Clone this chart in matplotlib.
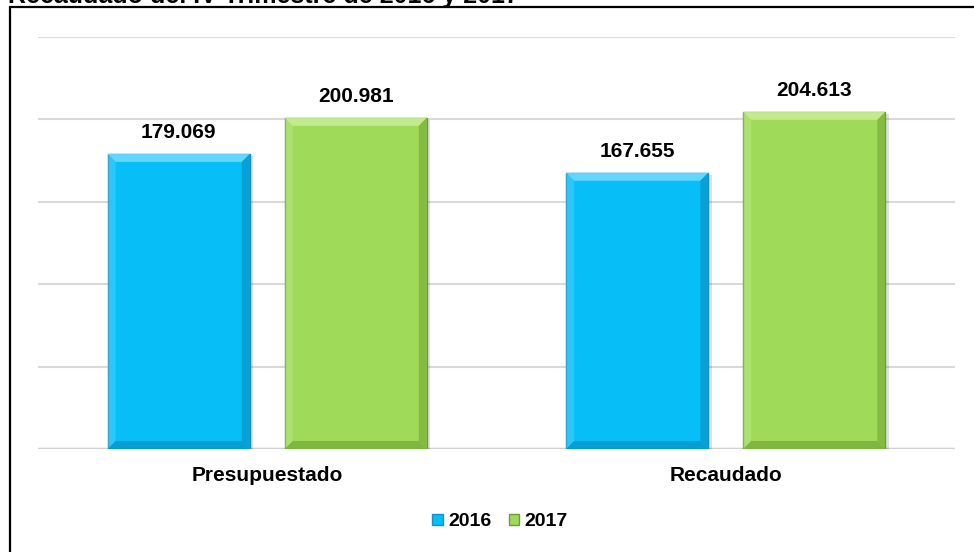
import numpy as np
import matplotlib.pyplot as plt
from matplotlib.patches import Polygon, Rectangle, Patch

# ============================================================
# Datos
# ============================================================
categorias = ["Presupuestado", "Recaudado"]
series = ["2016", "2017"]
valores_2016 = [179.069, 167.655]
valores_2017 = [200.981, 204.613]
titulo = "Recaudado del IV Trimestre de 2016 y 2017"

plt.rcParams['font.family'] = ['Liberation Sans', 'DejaVu Sans']

# colores: (cara, luz, sombra, borde)
col_2016 = ("#08BEF6", "#6ED9FF", "#0796C9", "#1C8FC0")
col_2017 = ("#9FDA59", "#C8EE95", "#78AE3A", "#6E9B3A")

fig = plt.figure(figsize=(9.74, 5.52), dpi=100)
ax = fig.add_axes([38/974, 1 - 449/552, (955 - 38)/974, (449 - 37)/552])

x = np.arange(len(categorias))
ancho = 0.31
desp = 0.193

ax.set_xlim(-0.5, len(categorias) - 0.5)
ax.set_ylim(0, 250)
ax.set_yticks(np.arange(0, 251, 50))
ax.yaxis.grid(True, color="#D9D9D9", linewidth=1.5)
ax.set_axisbelow(True)
for s in ax.spines.values():
    s.set_visible(False)
ax.tick_params(axis='y', left=False, labelleft=False)
ax.tick_params(axis='x', bottom=False, pad=9)
ax.set_xticks(x)
ax.set_xticklabels(categorias, fontsize=15, fontweight='bold')
ax.axhline(0, color="#D0D0D0", linewidth=2.5, zorder=1)


def barra_bisel(xc, h, col):
    x0 = xc - ancho / 2
    # tamaño del bisel en unidades de datos (unos 8 px)
    p0 = ax.transData.transform((0, 0))
    p1 = ax.transData.transform((1, 1))
    bx = 8 / (p1[0] - p0[0])
    by = 8 / (p1[1] - p0[1])
    cara, luz, sombra, borde = col
    # sombra suave
    ax.add_patch(Rectangle((x0 + bx * 0.4, -by * 0.3), ancho, h, color="#000000",
                           alpha=0.12, zorder=2, linewidth=0))
    ax.bar(xc, h, ancho, color=cara, edgecolor=borde, linewidth=1, zorder=3)
    x1 = x0 + ancho
    caras = [
        ([(x0, h), (x1, h), (x1 - bx, h - by), (x0 + bx, h - by)], luz, 0.9),
        ([(x0, 0), (x0, h), (x0 + bx, h - by), (x0 + bx, by)], luz, 0.35),
        ([(x1, 0), (x1, h), (x1 - bx, h - by), (x1 - bx, by)], sombra, 0.7),
        ([(x0, 0), (x1, 0), (x1 - bx, by), (x0 + bx, by)], sombra, 0.8),
    ]
    for pts, c, a in caras:
        ax.add_patch(Polygon(pts, closed=True, facecolor=c, alpha=a,
                             edgecolor='none', zorder=4))
    ax.text(xc, h + 7, f"{h:.3f}", ha='center', va='bottom',
            fontsize=15, fontweight='bold', color='black', zorder=5)


for i in range(len(categorias)):
    barra_bisel(x[i] - desp, valores_2016[i], col_2016)
    barra_bisel(x[i] + desp, valores_2017[i], col_2017)

# leyenda
h1 = Patch(facecolor=col_2016[0], edgecolor=col_2016[3])
h2 = Patch(facecolor=col_2017[0], edgecolor=col_2017[3])
fig.legend(handles=[h1, h2], labels=series, loc='center', bbox_to_anchor=(500/974, 1 - 522/552),
           ncol=2, frameon=False, prop={'size': 14, 'weight': 'bold'},
           handlelength=0.55, handleheight=0.55, handletextpad=0.25, columnspacing=0.9)

# marco del gráfico
fig.patches.append(Rectangle((10/974, -0.05), 1.0, 1 - 7/552 + 0.05, transform=fig.transFigure,
                             fill=False, edgecolor='black', linewidth=1.6))

# título (cortado por el borde superior, como en el original)
fig.text(8/974, 1 - 3/552, titulo, ha='left', va='baseline', fontsize=18,
         fontweight='bold', color='black')

fig.savefig("out.png", dpi=100)
